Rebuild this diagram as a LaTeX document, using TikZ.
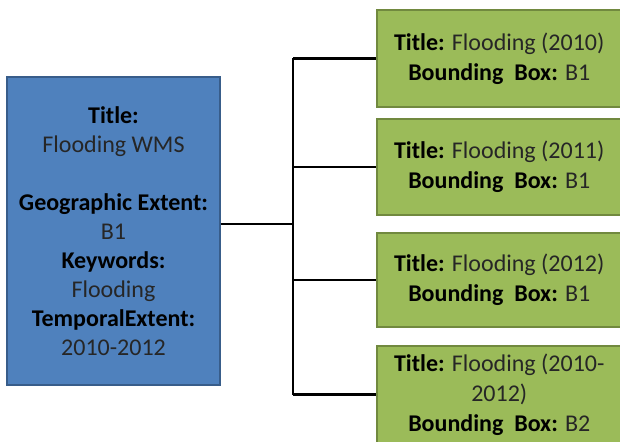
\documentclass[tikz,border=0pt]{standalone}
\usepackage{fontspec}
\setmainfont{Carlito}
\usetikzlibrary{positioning, calc}
\usepackage{xcolor}
\definecolor{wmsblue}{HTML}{4F81BD}
\definecolor{wmsblueline}{HTML}{385D8A}
\definecolor{layergreen}{HTML}{9BBB59}
\definecolor{layergreenline}{HTML}{71893F}
\definecolor{valgray}{HTML}{262626}
\newcommand{\val}[1]{\textcolor{valgray}{#1}}

\begin{document}
\begin{tikzpicture}[x=1pt, y=-1pt,
    service/.style={rectangle, fill=wmsblue, draw=wmsblueline, line width=1.5pt,
      minimum width=213pt, minimum height=308pt, align=center, inner sep=0pt,
      font=\fontsize{24}{29}\selectfont},
    layer/.style={rectangle, fill=layergreen, draw=layergreenline, line width=1.5pt,
      minimum width=245pt, align=center, inner sep=0pt, anchor=west,
      font=\fontsize{24}{30}\selectfont},
    link/.style={draw=black, line width=2.2pt}]
    \useasboundingbox (0,0) rectangle (620,441);
    \clip (0,0) rectangle (620,441);
    \node[service] (wms) at (113.5,231) {\textbf{Title:}\\ \val{Flooding WMS}\\[29pt]
      \textbf{Geographic Extent:}\\ \val{B1}\\ \textbf{Keywords:}\\ \val{Flooding}\\
      \textbf{TemporalExtent:}\\ \val{2010-2012}};
    \node[layer, minimum height=97pt] (l1) at (376,58.5)
      {\textbf{Title:} \val{Flooding (2010)}\\ \textbf{Bounding\ \ Box:} \val{B1}};
    \node[layer, minimum height=96pt] (l2) at (376,167)
      {\textbf{Title:} \val{Flooding (2011)}\\ \textbf{Bounding\ \ Box:} \val{B1}};
    \node[layer, minimum height=94pt] (l3) at (376,280)
      {\textbf{Title:} \val{Flooding (2012)}\\ \textbf{Bounding\ \ Box:} \val{B1}};
    \node[layer, minimum height=97pt] (l4) at (376,394.5)
      {\textbf{Title:} \val{Flooding (2010-}\\ \val{2012)}\\ \textbf{Bounding\ \ Box:} \val{B2}};
    % tree connector
    \coordinate (fork) at (293,224);
    \draw[link] (wms.east |- fork) -- (fork);
    \draw[link] (fork |- l1.west) -- (fork |- l4.west);
    \foreach \l in {l1, l2, l3, l4}
      \draw[link] (fork |- \l.west) -- (\l.west);
  \end{tikzpicture}
\end{document}
